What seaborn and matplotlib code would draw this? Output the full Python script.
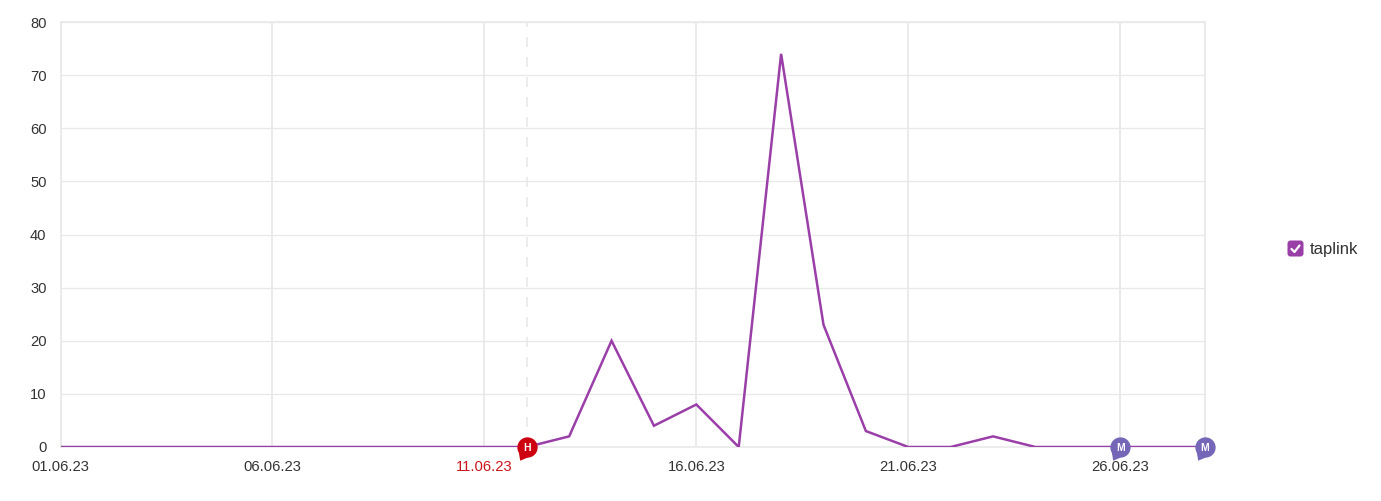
import matplotlib
matplotlib.use("Agg")
import matplotlib.pyplot as plt
import numpy as np
import pandas as pd
import seaborn as sns
from matplotlib.patches import FancyBboxPatch
from matplotlib.lines import Line2D
from matplotlib.path import Path
from matplotlib.transforms import IdentityTransform

days = list(range(1, 29))
taplink = [0,0,0,0,0,0,0,0,0,0,0,0,2,20,4,8,0,74,23,3,0,0,2,0,0,0,0,0]
tick_days = [1, 6, 11, 16, 21, 26]
tick_labels = ["01.06.23", "06.06.23", "11.06.23", "16.06.23", "21.06.23", "26.06.23"]
y_ticks = [0, 10, 20, 30, 40, 50, 60, 70, 80]
holiday_days = [12]
holiday_letters = ["H"]
note_days = [26, 28]
note_letters = ["M", "M"]
series_name = "taplink"

W, H = 1381, 501
GRID = "#e9e9e9"
PURPLE = "#9a3fa8"
RED = "#cc0011"
VIOLET = "#7566b8"
TEXT = "#333333"

sns.set_theme(style="white")
plt.rcParams["font.family"] = ["Liberation Sans", "DejaVu Sans"]

fig = plt.figure(figsize=(W / 100, H / 100), dpi=100, facecolor="white")
L, R, T, B = 60.5, 1205, 22, 447
ax = fig.add_axes([L / W, 1 - B / H, (R - L) / W, (B - T) / H])

df = pd.DataFrame({"day": days, "value": taplink})
sns.lineplot(data=df, x="day", y="value", ax=ax, color=PURPLE, linewidth=1.8,
             zorder=4, legend=False, clip_on=True, solid_joinstyle="miter")

ax.set_xlim(1, 28)
ax.set_ylim(0, 80)
ax.set_xlabel("")
ax.set_ylabel("")
ax.set_yticks(y_ticks)
ax.set_xticks(tick_days)
ax.set_xticklabels(tick_labels)
ax.tick_params(axis="both", length=0, labelsize=10.6, labelcolor=TEXT)
ax.tick_params(axis="x", pad=9.5)
ax.tick_params(axis="y", pad=10)
ax.get_xticklabels()[2].set_color("#c9161d")

ax.grid(True, axis="y", color=GRID, linewidth=0.95, zorder=0)
ax.grid(True, axis="x", color=GRID, linewidth=1.3, zorder=0)
ax.set_axisbelow(True)
for s in ax.spines.values():
    s.set_color(GRID)
    s.set_linewidth(1.2)
    s.set_visible(True)

for d in holiday_days:
    ax.axvline(d, color=GRID, linewidth=1.2, linestyle=(0, (6, 6)), zorder=1)
for d in note_days:
    ax.axvline(d, color=GRID, linewidth=1.2, zorder=1)

# speech-bubble marker: circle plus a small tail at the lower left
circle = Path.unit_circle()
tail = Path([(-0.85, -0.5), (-0.72, -1.3), (0.0, -1.0), (-0.85, -0.5)],
            [Path.MOVETO, Path.LINETO, Path.LINETO, Path.CLOSEPOLY])
bubble = Path.make_compound_path(circle, tail)


def bubbles(xs, letters, color):
    for x, letter in zip(xs, letters):
        ax.plot([x], [0], marker=bubble, markersize=19, color=color, mew=0,
                linestyle="none", clip_on=False, zorder=6)
        ax.annotate(letter, (x, 0), xytext=(0, -0.4), textcoords="offset points",
                    ha="center", va="center", color="white", fontsize=7.5,
                    fontweight="bold", zorder=7, annotation_clip=False)


bubbles(holiday_days, holiday_letters, RED)
bubbles(note_days, note_letters, VIOLET)

# legend: checkbox and label (positions in image pixels, y flipped)
bx, by, bs = 1287.5, 240.5, 16
px = IdentityTransform()
fig.add_artist(FancyBboxPatch((bx + 3, H - (by + bs) + 3), bs - 6, bs - 6,
                              boxstyle="round,pad=3,rounding_size=3", transform=px,
                              facecolor=PURPLE, edgecolor="none"))
fig.add_artist(Line2D([bx + 4, bx + 7, bx + 12],
                      [H - (by + 8.5), H - (by + 11.5), H - (by + 5)],
                      transform=px, color="white", linewidth=1.6))
fig.text(1310 / W, 1 - 249.5 / H, series_name, fontsize=12, color=TEXT,
         ha="left", va="center")

fig.savefig("out.png", dpi=100, facecolor="white")
